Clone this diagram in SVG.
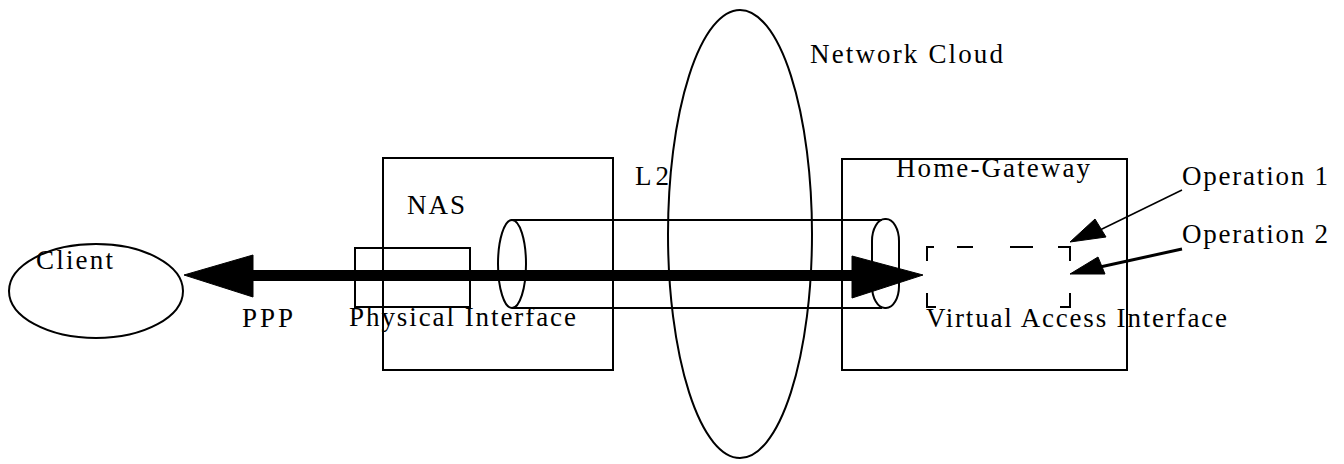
<svg xmlns="http://www.w3.org/2000/svg" width="1344" height="464" viewBox="0 0 1344 464">
<style>
.ln{fill:none;stroke:#000;stroke-width:2}
.t{font-family:"Liberation Serif","Times New Roman",serif;font-size:27px;fill:#000}
.ah{fill:#000;stroke:#000;stroke-width:1}
</style>
<rect width="1344" height="464" fill="#fff"/>
<g id="cloud">
<ellipse class="ln" cx="740" cy="234" rx="72" ry="224"/>
<text class="t" x="810" y="63" textLength="193" lengthAdjust="spacing">Network Cloud</text>
</g>
<g id="client">
<ellipse class="ln" cx="96" cy="291" rx="87" ry="47" stroke-width="2.5"/>
<text class="t" x="36" y="269" textLength="77" lengthAdjust="spacing">Client</text>
</g>
<g id="nas">
<rect class="ln" x="383" y="158" width="230" height="212"/>
<text class="t" x="407" y="214" textLength="58" lengthAdjust="spacing">NAS</text>
</g>
<g id="physical-interface">
<rect class="ln" x="355" y="248" width="115" height="59"/>
<text class="t" x="349" y="326" textLength="227" lengthAdjust="spacing">Physical Interface</text>
</g>
<g id="l2-tunnel">
<ellipse class="ln" cx="512" cy="264" rx="14" ry="44"/>
<path class="ln" d="M511,220 H882" stroke-width="3"/>
<path class="ln" d="M512,308 H882"/>
<rect class="ln" x="872" y="219" width="27" height="89" rx="13" ry="22"/>
<text class="t" x="635" y="185" textLength="34" lengthAdjust="spacing">L2</text>
</g>
<g id="home-gateway">
<rect class="ln" x="842" y="159" width="285" height="211"/>
<text class="t" x="896" y="177" textLength="194" lengthAdjust="spacing">Home-Gateway</text>
</g>
<g id="virtual-access-interface">
<path class="ln" d="M927,261 V247 H934 M957,247 H973 M1010,247 H1033 M1058,247 H1070 V261 M927,293 V307 H936 M1060,307 H1070 V293"/>
<text class="t" x="926" y="327" textLength="301" lengthAdjust="spacing">Virtual Access Interface</text>
</g>
<g id="operation-1">
<text class="t" x="1182" y="185" textLength="146" lengthAdjust="spacing">Operation 1</text>
</g>
<g id="operation-2">
<text class="t" x="1182" y="243" textLength="146" lengthAdjust="spacing">Operation 2</text>
</g>
<g id="connectors">
<path d="M250,275.5 H855" stroke="#000" stroke-width="11" fill="none"/>
<polygon class="ah" points="184,275 253,255 253,297"/>
<polygon class="ah" points="923,275 852,256 852,298"/>
<text class="t" x="242" y="327" textLength="51" lengthAdjust="spacing">PPP</text>
<path d="M1182,190 L1100,230" stroke="#000" stroke-width="1.5" fill="none"/>
<polygon class="ah" points="1070,242 1095,219 1106,237"/>
<path d="M1182,249 L1100,267" stroke="#000" stroke-width="3" fill="none"/>
<polygon class="ah" points="1070,274 1098,257 1105,274"/>
</g>
</svg>
